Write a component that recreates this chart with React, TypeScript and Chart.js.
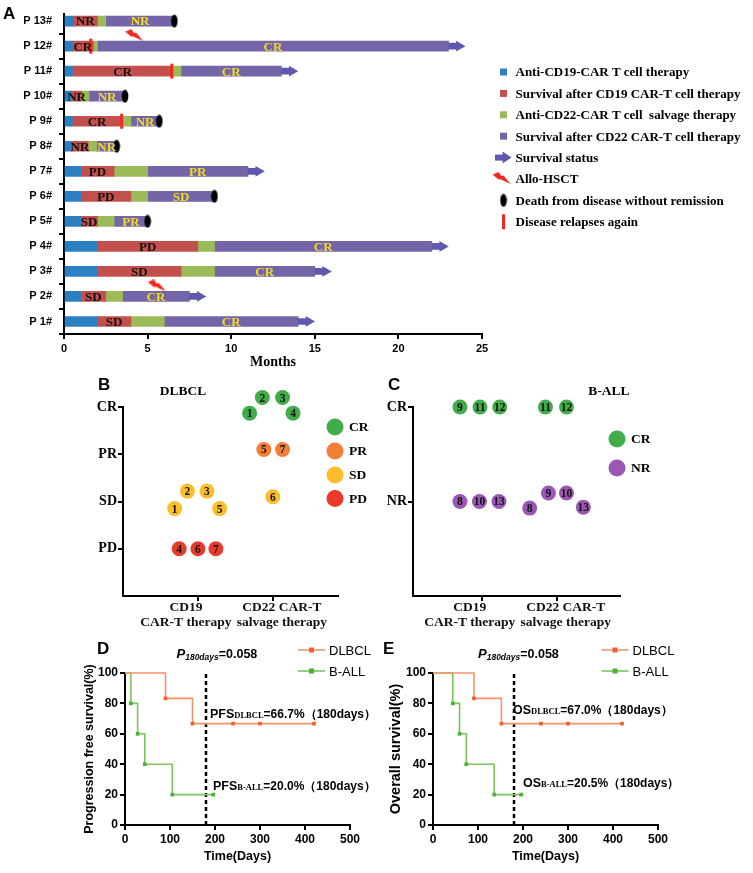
import React, { useEffect, useRef } from 'react';
import { Chart, registerables } from 'chart.js';

Chart.register(...registerables);

const SERIF = '"Liberation Serif", "Times New Roman", serif';
const SANS = '"Liberation Sans", Arial, sans-serif';

// ---------------- Panel A data ----------------
const patients = ['P 13#', 'P 12#', 'P 11#', 'P 10#', 'P 9#', 'P 8#', 'P 7#', 'P 6#', 'P 5#', 'P 4#', 'P 3#', 'P 2#', 'P 1#'];
const cd19End = [0.55, 0.5, 0.5, 0.45, 0.5, 0.45, 1, 1, 1, 2, 2, 1, 2];
const after19End = [2.0, 1.75, 6.5, 1.05, 3.45, 1.45, 3, 4, 2, 8, 7, 2.5, 4];
const cd22End = [2.5, 2.0, 7.0, 1.5, 4.0, 1.95, 5, 5, 3, 9, 9, 3.5, 6];
const after22End = [6.6, 23, 13, 3.65, 5.7, 3.15, 11, 9, 5, 22, 15, 7.5, 14];
const response19 = ['NR', 'CR', 'CR', 'NR', 'CR', 'NR', 'PD', 'PD', 'SD', 'PD', 'SD', 'SD', 'SD'];
const response22 = ['NR', 'CR', 'CR', 'NR', 'NR', 'NR', 'PR', 'SD', 'PR', 'CR', 'CR', 'CR', 'CR'];
const aliveAtEnd = [false, true, true, false, false, false, true, false, false, true, true, true, true];
const relapseMonth = [null, 1.6, 6.45, null, 3.45, null, null, null, null, null, null, null, null];
const hsctMonth = [null, 4.2, null, null, null, null, null, null, null, null, null, 5.55, null];
const monthTicks = [0, 5, 10, 15, 20, 25];
const legendA = [
  'Anti-CD19-CAR T cell therapy',
  'Survival after CD19 CAR-T cell therapy',
  'Anti-CD22-CAR T cell  salvage therapy',
  'Survival after CD22 CAR-T cell therapy',
  'Survival status',
  'Allo-HSCT',
  'Death from disease without remission',
  'Disease relapses again',
];

// ---------------- Panel B data (DLBCL) ----------------
const dlbclLevels = ['PD', 'SD', 'PR', 'CR'];
const therapyLabels = [['CD19', 'CAR-T therapy'], ['CD22 CAR-T', 'salvage therapy']];
const dlbclCR = [{ x: 1.69, y: 3.87, n: '1' }, { x: 1.86, y: 4.2, n: '2' }, { x: 2.13, y: 4.2, n: '3' }, { x: 2.27, y: 3.87, n: '4' }];
const dlbclPR = [{ x: 1.88, y: 3.1, n: '5' }, { x: 2.13, y: 3.1, n: '7' }];
const dlbclSD = [{ x: 0.69, y: 1.85, n: '1' }, { x: 0.86, y: 2.22, n: '2' }, { x: 1.12, y: 2.22, n: '3' }, { x: 1.29, y: 1.85, n: '5' }, { x: 2.0, y: 2.1, n: '6' }];
const dlbclPD = [{ x: 0.75, y: 1.0, n: '4' }, { x: 1.0, y: 1.0, n: '6' }, { x: 1.24, y: 1.0, n: '7' }];

// ---------------- Panel C data (B-ALL) ----------------
const ballLevels = ['NR', 'CR'];
const ballCR = [{ x: 0.71, y: 2, n: '9' }, { x: 0.977, y: 2, n: '11' }, { x: 1.24, y: 2, n: '12' }, { x: 1.85, y: 2, n: '11' }, { x: 2.13, y: 2, n: '12' }];
const ballNR = [{ x: 0.71, y: 1, n: '8' }, { x: 0.97, y: 1, n: '10' }, { x: 1.23, y: 1, n: '13' }, { x: 1.64, y: 0.93, n: '8' }, { x: 1.89, y: 1.09, n: '9' }, { x: 2.13, y: 1.09, n: '10' }, { x: 2.355, y: 0.94, n: '13' }];

// ---------------- Panels D/E data ----------------
const pfsDlbclDays = [0, 90, 150, 240, 300, 420];
const pfsDlbcl = [100, 83.3, 66.7, 66.7, 66.7, 66.7];
const pfsBallDays = [0, 13, 28, 44, 105, 196];
const pfsBall = [100, 80, 60, 40, 20, 20];
const osDlbclDays = [0, 91, 152, 240, 300, 420];
const osDlbcl = [100, 83.3, 66.7, 66.7, 66.7, 66.7];
const osBallDays = [0, 44, 59, 74, 136, 196];
const osBall = [100, 80, 60, 40, 20, 20];
const landmarkDay = 180;
const dayTicks = [0, 100, 200, 300, 400, 500];
const survivalTicks = [0, 20, 40, 60, 80, 100];

// ---------------- styles ----------------
const phaseColors = ['#2b80c3', '#c4504d', '#9bbb59', '#7465a9'];
const arrowColor = '#5f59ad';
const yellowText = '#f2dc1c';
const respColors: Record<string, string> = { CR: '#40ad4a', PR: '#f27f36', SD: '#fbbd2b', PD: '#e93a2c', NR: '#9c57b4' };

const axisBase = (tickFont: any, tickPad: number) => ({
  offset: false,
  border: { display: true, color: '#000', width: 2 },
  grid: { drawOnChartArea: false, drawTicks: true, tickLength: 5, color: '#000', lineWidth: 2, offset: false },
  ticks: { color: '#000', font: tickFont, padding: tickPad, autoSkip: false, maxRotation: 0, minRotation: 0 },
});

function makeBolt(): HTMLCanvasElement {
  const c = document.createElement('canvas');
  c.width = 18; c.height = 12;
  const g = c.getContext('2d')!;
  g.fillStyle = '#f0281e';
  g.beginPath();
  g.moveTo(0, 2.5); g.lineTo(6, 0); g.lineTo(9, 4); g.lineTo(11, 3.5); g.lineTo(18, 12); g.lineTo(8, 7.2); g.lineTo(6, 7.5);
  g.closePath();
  g.fill();
  return c;
}
function makeEllipse(): HTMLCanvasElement {
  const c = document.createElement('canvas');
  c.width = 8; c.height = 14;
  const g = c.getContext('2d')!;
  g.fillStyle = '#000';
  g.beginPath(); g.ellipse(4, 7, 3.3, 6.5, 0, 0, Math.PI * 2); g.fill();
  return c;
}

function rich(ctx: CanvasRenderingContext2D, x: number, y: number, parts: [string, string, number?][]) {
  let cx = x;
  ctx.textAlign = 'left';
  ctx.textBaseline = 'alphabetic';
  for (const [t, f, dy] of parts) {
    ctx.font = f;
    ctx.fillText(t, cx, y + (dy || 0));
    cx += ctx.measureText(t).width;
  }
}

const baseOptions = (padding: any) => ({
  animation: false as const,
  responsive: false,
  devicePixelRatio: 1,
  events: [] as any[],
  layout: { padding },
  plugins: { legend: { display: false }, tooltip: { enabled: false } },
});

// ---------------- Chart A ----------------
function buildA(canvas: HTMLCanvasElement) {
  const bolt = makeBolt();
  const ell = makeEllipse();
  const n = patients.length;
  const rows = patients.map((_, i) => n - i);
  const starts = patients.map(() => 0);
  const bounds = [starts, cd19End, after19End, cd22End, after22End];
  const phaseSets = [0, 1, 2, 3].map((p) => ({
    type: 'bar' as const,
    label: legendA[p],
    indexAxis: 'y' as const,
    grouped: false,
    order: 3,
    data: patients.map((_, i) => ({ x: [bounds[p][i], bounds[p + 1][i]], y: rows[i] })),
    backgroundColor: phaseColors[p],
    borderWidth: 0,
    barThickness: 10,
  }));
  const aliveIdx = patients.map((_, i) => i).filter((i) => aliveAtEnd[i]);
  const deadIdx = patients.map((_, i) => i).filter((i) => !aliveAtEnd[i]);
  const shaft = {
    type: 'bar' as const, label: 'shaft', indexAxis: 'y' as const, grouped: false, order: 2,
    data: aliveIdx.map((i) => ({ x: [after22End[i], after22End[i] + 0.5], y: rows[i] })),
    backgroundColor: arrowColor, borderWidth: 0, barThickness: 6,
  };
  const heads = {
    type: 'scatter' as const, label: 'Survival status', order: 1,
    data: aliveIdx.map((i) => ({ x: after22End[i] + 0.64, y: rows[i] })),
    pointStyle: 'triangle', rotation: 90, pointRadius: 6.2, backgroundColor: arrowColor, borderWidth: 0, clip: false,
  };
  const deaths = {
    type: 'scatter' as const, label: 'Death', order: 0,
    data: deadIdx.map((i) => ({ x: after22End[i], y: rows[i] })),
    pointStyle: ell, pointRadius: 7, clip: false,
  };
  const relIdx = patients.map((_, i) => i).filter((i) => relapseMonth[i] !== null);
  const relapses = {
    type: 'scatter' as const, label: 'Relapse', order: 0,
    data: relIdx.map((i) => ({ x: relapseMonth[i] as number, y: rows[i] })),
    pointStyle: 'line', rotation: 90, pointRadius: 7.5, borderColor: '#f5281e', borderWidth: 3, clip: false,
  };
  const hIdx = patients.map((_, i) => i).filter((i) => hsctMonth[i] !== null);
  const hsct = {
    type: 'scatter' as const, label: 'Allo-HSCT', order: 0,
    data: hIdx.map((i) => ({ x: hsctMonth[i] as number, y: rows[i] + 0.44 })),
    pointStyle: bolt, pointRadius: 8, clip: false,
  };

  const plugin = {
    id: 'aText',
    afterDraw(chart: any) {
      const ctx: CanvasRenderingContext2D = chart.ctx;
      const xs = chart.scales.x, ys = chart.scales.y;
      ctx.save();
      ctx.fillStyle = '#000';
      ctx.font = `bold 17px ${SANS}`;
      ctx.textAlign = 'left'; ctx.textBaseline = 'alphabetic';
      ctx.fillText('A', 3, 19);
      // labels on bars
      ctx.font = `bold 13px ${SERIF}`;
      ctx.textAlign = 'center'; ctx.textBaseline = 'middle';
      patients.forEach((_, i) => {
        const y = ys.getPixelForValue(rows[i]) + 1;
        ctx.fillStyle = '#111';
        ctx.fillText(response19[i], xs.getPixelForValue((cd19End[i] + after19End[i]) / 2), y);
        ctx.fillStyle = yellowText;
        ctx.fillText(response22[i], xs.getPixelForValue((cd22End[i] + after22End[i]) / 2), y);
      });
      // legend
      const x0 = 503.5, tx = 515.5, y0 = 72, dy = 21.4;
      legendA.forEach((label, k) => {
        const y = y0 + k * dy;
        if (k < 4) {
          ctx.fillStyle = phaseColors[k];
          ctx.fillRect(x0 - 3.5, y - 3.5, 7, 7);
        } else if (k === 4) {
          ctx.fillStyle = arrowColor;
          ctx.fillRect(x0 - 8.5, y - 3, 9, 6);
          ctx.beginPath(); ctx.moveTo(x0 - 1, y - 6); ctx.lineTo(x0 + 8, y); ctx.lineTo(x0 - 1, y + 6); ctx.closePath(); ctx.fill();
        } else if (k === 5) {
          ctx.drawImage(bolt, x0 - 11, y - 7);
        } else if (k === 6) {
          ctx.drawImage(ell, x0 - 4, y - 7);
        } else {
          ctx.fillStyle = '#f5281e';
          ctx.fillRect(x0 - 1.5, y - 7.5, 3, 15);
        }
        ctx.fillStyle = '#000';
        ctx.font = `bold 13px ${SERIF}`;
        ctx.textAlign = 'left'; ctx.textBaseline = 'middle';
        ctx.fillText(label, tx, y + 1);
      });
      ctx.restore();
    },
  };

  const ax = axisBase({ family: SANS, size: 11, weight: 'bold' }, 3);
  const ay = axisBase({ family: SANS, size: 11, weight: 'bold' }, 7);
  return new Chart(canvas, {
    type: 'bar',
    data: { datasets: [...phaseSets, shaft, heads, deaths, relapses, hsct] as any },
    options: {
      ...baseOptions({ left: 0, top: 11, right: 271, bottom: 502 }),
      scales: {
        x: {
          type: 'linear', min: 0, max: 25,
          ...ax,
          afterBuildTicks: (s: any) => { s.ticks = monthTicks.map((v) => ({ value: v })); },
          afterFit: (s: any) => { s.height = 37; },
          title: { display: true, text: 'Months', color: '#000', font: { family: SERIF, size: 14, weight: 'bold' }, padding: 0 },
        },
        y: {
          type: 'linear', min: 0.5, max: 13.3,
          ...ay,
          grid: { ...ay.grid, offset: true },
          ticks: { ...ay.ticks, callback: (v: any) => patients[n - Number(v)] },
          afterBuildTicks: (s: any) => { s.ticks = rows.slice().reverse().map((v) => ({ value: v })); },
          afterFit: (s: any) => { s.width = 64; },
        },
      } as any,
    } as any,
    plugins: [plugin],
  });
}

// ---------------- Charts B / C ----------------
function buildDot(
  canvas: HTMLCanvasElement,
  letter: string, title: string, titleX: number,
  levels: string[], groups: { label: string; data: any[] }[],
  xMin: number, xMax: number, padding: any,
  legendX: number, legendYs: number[],
) {
  const plugin = {
    id: 'dotText' + letter,
    afterDraw(chart: any) {
      const ctx: CanvasRenderingContext2D = chart.ctx;
      const xs = chart.scales.x;
      ctx.save();
      ctx.fillStyle = '#000';
      ctx.font = `bold 17px ${SANS}`;
      ctx.textAlign = 'left'; ctx.textBaseline = 'alphabetic';
      ctx.fillText(letter, letter === 'B' ? 98 : 388, 390);
      ctx.font = `bold 13.5px ${SERIF}`;
      ctx.textAlign = 'center'; ctx.textBaseline = 'middle';
      ctx.fillText(title, titleX, 392);
      // numbers in dots
      ctx.font = `bold 11.5px ${SERIF}`;
      chart.data.datasets.forEach((ds: any, d: number) => {
        const meta = chart.getDatasetMeta(d);
        meta.data.forEach((el: any, j: number) => {
          ctx.fillStyle = '#111';
          ctx.fillText(ds.data[j].n, el.x, el.y + 1);
        });
      });
      // x labels (therapies)
      ctx.font = `bold 13.5px ${SERIF}`;
      const shifts = [-12, 9];
      therapyLabels.forEach((lines, k) => {
        const cx = xs.getPixelForValue(k + 1) + shifts[k];
        lines.forEach((line, m) => ctx.fillText(line, cx, 608 + m * 14.5));
      });
      // legend
      chart.data.datasets.forEach((ds: any, d: number) => {
        const y = legendYs[d];
        ctx.fillStyle = ds.backgroundColor;
        ctx.beginPath(); ctx.arc(legendX, y, 8.5, 0, Math.PI * 2); ctx.fill();
        ctx.fillStyle = '#000';
        ctx.font = `bold 13.5px ${SERIF}`;
        ctx.textAlign = 'left';
        ctx.fillText(ds.label, legendX + 14, y + 1);
      });
      ctx.restore();
    },
  };
  const ax = axisBase({ family: SERIF, size: 13.5, weight: 'bold' }, 2);
  const ay = axisBase({ family: SERIF, size: 14, weight: 'bold' }, 1);
  return new Chart(canvas, {
    type: 'scatter',
    data: {
      datasets: groups.map((g) => ({
        label: g.label, data: g.data, backgroundColor: respColors[g.label],
        pointRadius: 7.5, pointBorderWidth: 14, pointBorderColor: 'rgba(0,0,0,0)', borderWidth: 0, clip: false,
      })) as any,
    },
    options: {
      ...baseOptions(padding),
      scales: {
        x: {
          type: 'linear', min: xMin, max: xMax, ...ax,
          ticks: { ...ax.ticks, display: false },
          afterBuildTicks: (s: any) => { s.ticks = [{ value: 1 }, { value: 2 }]; },
          afterFit: (s: any) => { s.height = 40; },
        },
        y: {
          type: 'linear', min: 0, max: levels.length, ...ay,
          ticks: { ...ay.ticks, callback: (v: any) => levels[Number(v) - 1] },
          afterBuildTicks: (s: any) => { s.ticks = levels.map((_, i) => ({ value: i + 1 })); },
          afterFit: (s: any) => { s.width = 40; },
        },
      } as any,
    } as any,
    plugins: [plugin],
  });
}

// ---------------- Charts D / E ----------------
function kmSet(label: string, days: number[], surv: number[], line: string, mark: string) {
  return {
    label, data: days.map((d, i) => ({ x: d, y: surv[i] })), stepped: true,
    borderColor: line, borderWidth: 1.6, pointStyle: 'rect',
    pointRadius: days.map((_, i) => (i === 0 ? 0 : 2.6)),
    pointBackgroundColor: mark, pointBorderWidth: 0, clip: false, fill: false,
  };
}

function buildKM(
  canvas: HTMLCanvasElement, letter: string, letterX: number,
  yTitle: string, yTitleSize: number, padLeft: number, yWidth: number, padRight: number,
  dlbclDays: number[], dlbcl: number[], ballDays: number[], ball: number[],
  pX: number, legX: number,
  notes: { parts: string[]; x: number; y: number }[],
) {
  const orangeLine = '#f79466', orangeMark = '#f0602a';
  const greenLine = '#7cc65d', greenMark = '#4caf38';
  const plugin = {
    id: 'kmText' + letter,
    afterDraw(chart: any) {
      const ctx: CanvasRenderingContext2D = chart.ctx;
      ctx.save();
      ctx.fillStyle = '#000';
      ctx.font = `bold 17px ${SANS}`;
      ctx.textAlign = 'left'; ctx.textBaseline = 'alphabetic';
      ctx.fillText(letter, letterX, 653.5);
      rich(ctx, pX, 658, [
        ['P', `italic bold 13px ${SANS}`],
        ['180days', `italic bold 8.5px ${SANS}`, 2],
        ['=0.058', `bold 12.5px ${SANS}`],
      ]);
      // legend
      const items = [
        { t: 'DLBCL', line: orangeLine, mark: orangeMark, y: 650 },
        { t: 'B-ALL', line: greenLine, mark: greenMark, y: 671 },
      ];
      items.forEach((it) => {
        ctx.strokeStyle = it.line; ctx.lineWidth = 1.6;
        ctx.beginPath(); ctx.moveTo(legX, it.y); ctx.lineTo(legX + 27, it.y); ctx.stroke();
        ctx.fillStyle = it.mark; ctx.fillRect(legX + 11, it.y - 2.5, 5, 5);
        ctx.fillStyle = '#000'; ctx.font = `13px ${SANS}`;
        ctx.textAlign = 'left'; ctx.textBaseline = 'middle';
        ctx.fillText(it.t, legX + 31, it.y + 1);
      });
      notes.forEach((nt) => {
        ctx.fillStyle = '#000';
        rich(ctx, nt.x, nt.y + 4.5, [
          [nt.parts[0], `bold 12.5px ${SANS}`],
          [nt.parts[1], `bold 8.5px ${SERIF}`, 0],
          [nt.parts[2], `bold 12px ${SANS}`],
        ]);
      });
      ctx.restore();
    },
  };
  const tf = { family: SANS, size: 12, weight: 'bold' };
  const ax = axisBase(tf, 2);
  const ay = axisBase(tf, 2);
  return new Chart(canvas, {
    type: 'line',
    data: {
      datasets: [
        kmSet('DLBCL', dlbclDays, dlbcl, orangeLine, orangeMark),
        kmSet('B-ALL', ballDays, ball, greenLine, greenMark),
        {
          label: 'landmark', data: [{ x: landmarkDay, y: 0 }, { x: landmarkDay, y: 100 }],
          borderColor: '#000', borderWidth: 2.5, borderDash: [4, 3], pointRadius: 0, clip: false,
        },
      ] as any,
    },
    options: {
      ...baseOptions({ left: padLeft, top: 673, right: padRight, bottom: 8.5 }),
      scales: {
        x: {
          type: 'linear', min: 0, max: 500, ...ax,
          afterBuildTicks: (s: any) => { s.ticks = dayTicks.map((v) => ({ value: v })); },
          afterFit: (s: any) => { s.height = 39.5; },
          title: { display: true, text: 'Time(Days)', color: '#000', font: { family: SANS, size: 12.5, weight: 'bold' }, padding: 0 },
        },
        y: {
          type: 'linear', min: 0, max: 100, ...ay,
          afterBuildTicks: (s: any) => { s.ticks = survivalTicks.map((v) => ({ value: v })); },
          afterFit: (s: any) => { s.width = yWidth; },
          title: { display: true, text: yTitle, color: '#000', font: { family: SANS, size: yTitleSize, weight: 'bold' }, padding: 0 },
        },
      } as any,
    } as any,
    plugins: [plugin],
  });
}

export default function App() {
  const refA = useRef<HTMLCanvasElement>(null);
  const refB = useRef<HTMLCanvasElement>(null);
  const refC = useRef<HTMLCanvasElement>(null);
  const refD = useRef<HTMLCanvasElement>(null);
  const refE = useRef<HTMLCanvasElement>(null);

  useEffect(() => {
    document.body.style.margin = '0';
    document.body.style.background = '#fff';
    const charts = [
      buildA(refA.current!),
      buildDot(refB.current!, 'B', 'DLBCL', 183, dlbclLevels,
        [{ label: 'CR', data: dlbclCR }, { label: 'PR', data: dlbclPR }, { label: 'SD', data: dlbclSD }, { label: 'PD', data: dlbclPD }],
        0, 2.87, { left: 83, top: 407, right: 415, bottom: 237 }, 335, [427, 451, 475, 498.5]),
      buildDot(refC.current!, 'C', 'B-ALL', 609, ballLevels,
        [{ label: 'CR', data: ballCR }, { label: 'NR', data: ballNR }],
        0.084, 2.844, { left: 373, top: 407, right: 133, bottom: 237 }, 617, [439, 468]),
      buildKM(refD.current!, 'D', 97, 'Progression free survival(%)', 12.5, 82.5, 42.5, 403,
        pfsDlbclDays, pfsDlbcl, pfsBallDays, pfsBall, 176.5, 298,
        [{ parts: ['PFS', 'DLBCL', '=66.7%（180days）'], x: 210, y: 713 }, { parts: ['PFS', 'B-ALL', '=20.0%（180days）'], x: 213, y: 785 }]),
      buildKM(refE.current!, 'E', 383, 'Overall survival(%)', 14.5, 387, 46, 95,
        osDlbclDays, osDlbcl, osBallDays, osBall, 478, 601.5,
        [{ parts: ['OS', 'DLBCL', '=67.0%（180days）'], x: 513, y: 709 }, { parts: ['OS', 'B-ALL', '=20.5%（180days）'], x: 523, y: 782 }]),
    ];
    return () => charts.forEach((c) => c.destroy());
  }, []);

  const refs = [refA, refB, refC, refD, refE];
  return (
    <div style={{ position: 'relative', width: 753, height: 873, background: '#fff', overflow: 'hidden' }}>
      {refs.map((r, i) => (
        <canvas key={i} ref={r} width={753} height={873} style={{ position: 'absolute', left: 0, top: 0, width: 753, height: 873 }} />
      ))}
    </div>
  );
}
